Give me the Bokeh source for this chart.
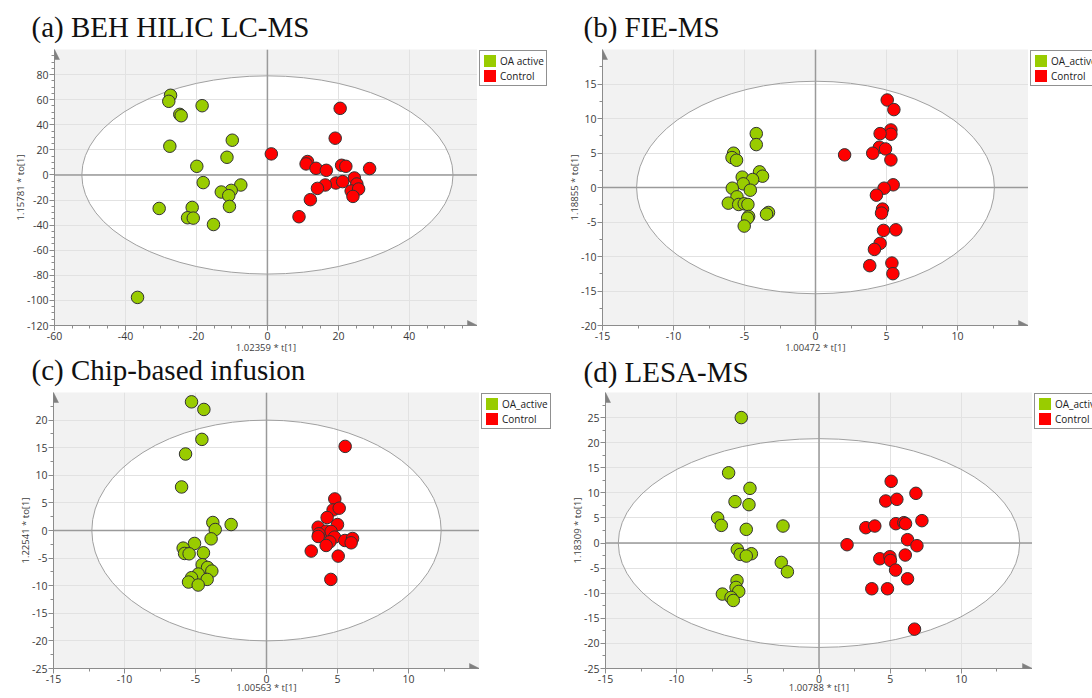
from bokeh.plotting import figure
from bokeh.models import (Legend, LegendItem, Span, Arrow, NormalHead,
                          FixedTicker, Range1d, Title, PrintfTickFormatter)
from bokeh.layouts import column, row
from bokeh.embed import file_html
from bokeh.resources import INLINE

GREEN = "#99cc00"
RED = "#ff0000"
NAN = float("nan")

# ---------------- data ----------------
# (a) BEH HILIC LC-MS
a_oa_x = [-27.3, -27.8, -24.7, -24.3, -18.4, -27.5, -9.9, -11.4, -19.9, -18.1, -7.5,
          -10.2, -13.0, -10.9, -10.7, -21.2, -30.5, -22.5, -20.9, -15.2, -36.6]
a_oa_y = [63.5, 58.7, 48.3, 47.2, 55.2, 22.9, 27.7, 14.1, 6.9, -6.1, -8.0,
          -12.3, -13.6, -16.5, -25.1, -25.9, -26.7, -34.1, -34.4, -39.5, -97.6]
a_ct_x = [1.1, 20.5, 19.1, 11.3, 10.9, 13.7, 16.6, 20.9, 22.1, 28.8, 24.5,
          25.2, 19.3, 21.2, 16.3, 14.1, 23.6, 25.7, 24.1, 12.1, 8.9]
a_ct_y = [16.8, 53.1, 29.3, 10.7, 8.8, 5.3, 3.7, 7.7, 6.9, 5.1, -2.4,
          -7.2, -6.4, -5.3, -8.0, -10.7, -12.8, -11.2, -17.1, -19.7, -33.3]

# (b) FIE-MS
b_oa_x = [-4.17, -4.17, -5.77, -5.88, -5.56, -3.94, -3.73, -5.16, -4.43, -5.09, -5.86,
          -4.59, -5.53, -6.14, -5.41, -5.02, -4.76, -3.31, -3.45, -4.71, -4.78, -5.02]
b_oa_y = [7.81, 6.22, 4.97, 4.34, 3.95, 2.27, 1.64, 1.50, 1.16, 0.53, -0.10,
          -0.39, -1.35, -2.27, -2.46, -2.36, -2.46, -3.62, -3.86, -4.20, -4.44, -5.59]
b_ct_x = [5.05, 5.52, 5.31, 5.31, 4.55, 4.50, 4.93, 4.03, 2.05, 5.31, 5.47,
          4.83, 4.29, 4.72, 4.65, 4.79, 5.66, 4.55, 4.15, 3.82, 5.38, 5.45]
b_ct_y = [12.68, 11.29, 8.34, 7.72, 7.81, 5.84, 5.59, 4.97, 4.73, 4.00, 0.39,
          -0.10, -1.11, -3.13, -3.71, -6.22, -6.13, -8.10, -8.97, -11.33, -10.95, -12.49]

# (c) Chip-based infusion
c_oa_x = [-5.28, -4.41, -4.55, -5.70, -5.98, -3.78, -3.61, -2.49, -3.90, -5.07, -5.87,
          -5.77, -5.45, -4.44, -4.53, -4.15, -3.85, -4.81, -5.28, -5.49, -4.18, -4.81]
c_oa_y = [23.31, 21.93, 16.51, 13.86, 7.89, 1.45, 0.18, 1.08, -1.51, -2.35, -3.19,
          -4.16, -4.22, -4.04, -6.20, -6.69, -7.35, -7.89, -8.55, -9.34, -8.86, -9.88]
c_ct_x = [5.54, 4.81, 4.69, 5.12, 4.27, 5.00, 3.64, 4.20, 4.55, 3.69, 3.64,
          4.79, 4.46, 4.20, 5.52, 6.06, 5.96, 3.15, 5.05, 4.53]
c_ct_y = [15.24, 5.72, 3.73, 4.04, 2.35, 1.08, 0.60, -0.12, -0.18, -0.60, -1.08,
          -1.20, -2.05, -2.71, -1.81, -1.45, -2.23, -3.73, -4.64, -8.86]

# (d) LESA-MS
d_oa_x = [-5.46, -6.35, -4.85, -5.90, -4.92, -7.12, -6.86, -5.11, -2.53, -5.74, -5.53,
          -4.75, -5.11, -2.65, -2.22, -5.76, -5.83, -5.64, -6.79, -6.18, -6.02]
d_oa_y = [25.0, 14.0, 10.9, 8.25, 7.65, 4.99, 3.52, 2.73, 3.39, -1.26, -2.26,
          -2.13, -2.59, -3.86, -5.72, -7.51, -8.84, -9.64, -10.17, -10.84, -11.44]
d_ct_x = [5.07, 6.81, 4.69, 5.47, 7.23, 5.40, 5.96, 6.08, 3.29, 3.92, 6.22,
          1.97, 6.88, 4.27, 4.98, 5.02, 6.06, 5.38, 6.22, 3.71, 4.81, 6.71]
d_ct_y = [12.30, 9.91, 8.38, 8.71, 4.46, 3.86, 4.06, 3.86, 3.06, 3.39, 0.67,
          -0.33, -0.53, -3.13, -2.73, -3.46, -2.39, -5.39, -7.12, -9.11, -9.11, -17.16]

titles = ["(a) BEH HILIC LC-MS", "(b) FIE-MS", "(c) Chip-based infusion", "(d) LESA-MS"]
x_labels = ["1.02359 * t[1]", "1.00472 * t[1]", "1.00563 * t[1]", "1.00788 * t[1]"]
y_labels = ["1.15781 * to[1]", "1.18855 * to[1]", "1.22541 * to[1]", "1.18309 * to[1]"]
oa_names = ["OA active", "OA_active", "OA_active", "OA_active"]
ctrl_name = "Control"
x_ranges = [(-60, 59.2), (-15, 15), (-15, 15), (-15, 15)]
y_ranges = [(-120, 100), (-20, 20), (-25, 25), (-25, 30)]
x_major = [list(range(-60, 41, 20)), list(range(-15, 11, 5)),
           list(range(-15, 11, 5)), list(range(-15, 11, 5))]
y_major = [list(range(-120, 81, 20)), list(range(-20, 16, 5)),
           list(range(-25, 21, 5)), list(range(-25, 26, 5))]
x_minor_step = [5, 2.5, 2.5, 2.5]
y_minor_step = [5, 2.5, 2.5, 2.5]
ellipse_semi = [(52.3, 79.0), (12.6, 15.4), (12.3, 20.0), (14.1, 20.8)]

TICK_FONT = "Open Sans"
TITLE_FONT = "Liberation Serif"
TITLE_SIZE = "29px"


def minor_list(lo, hi, step):
    out = []
    v = lo
    while v < hi - 1e-9:
        out.append(round(v, 4))
        v += step
    return out


def make_title(k, off, standoff):
    return Title(text=titles[k], text_font=TITLE_FONT, text_font_size=TITLE_SIZE,
                 text_font_style="normal", text_color="#111111", align="left",
                 offset=off, standoff=standoff)


def panel(i, oa_x, oa_y, ct_x, ct_y, width, height, bl, bt, bb, xlab_standoff):
    x0, x1 = x_ranges[i]
    y0, y1 = y_ranges[i]
    p = figure(width=width, height=height, title=None,
               min_border_left=bl, min_border_right=0,
               min_border_top=bt, min_border_bottom=bb,
               x_range=Range1d(x0, x1), y_range=Range1d(y0, y1),
               output_backend="svg", toolbar_location=None)
    p.background_fill_color = "#f2f2f2"
    p.border_fill_color = "white"
    p.outline_line_color = None

    xt = FixedTicker(ticks=x_major[i], minor_ticks=minor_list(x0, x1, x_minor_step[i]))
    yt = FixedTicker(ticks=y_major[i], minor_ticks=minor_list(y0, y1, y_minor_step[i]))
    p.xaxis.ticker = xt
    p.yaxis.ticker = yt
    p.xgrid.ticker = xt
    p.ygrid.ticker = yt
    p.grid.grid_line_color = "#e2e2e2"
    p.grid.grid_line_width = 1

    for ax in (p.xaxis, p.yaxis):
        ax.formatter = PrintfTickFormatter(format="%d")
        ax.axis_line_color = "#8c8c8c"
        ax.major_tick_line_color = "#8c8c8c"
        ax.minor_tick_line_color = "#8c8c8c"
        ax.major_tick_out = 5
        ax.major_tick_in = 0
        ax.minor_tick_out = 3
        ax.minor_tick_in = 0
        ax.major_label_text_font = TICK_FONT
        ax.major_label_text_font_size = "10.5px"
        ax.major_label_text_color = "#3a3a3a"
        ax.major_label_standoff = 1
        ax.axis_label_text_font = TICK_FONT
        ax.axis_label_text_font_size = "9.5px"
        ax.axis_label_text_font_style = "normal"
        ax.axis_label_text_color = "#404040"
    p.xaxis.axis_label_standoff = xlab_standoff
    p.yaxis.axis_label_standoff = -3
    p.xaxis.axis_label = x_labels[i]
    p.yaxis.axis_label = y_labels[i]

    a, b = ellipse_semi[i]
    p.ellipse(x=[0], y=[0], width=[2 * a], height=[2 * b], fill_color="white",
              line_color=None, level="image")
    p.ellipse(x=[0], y=[0], width=[2 * a], height=[2 * b], fill_color=None,
              line_color="#a0a0a0", line_width=1)

    p.add_layout(Span(location=0, dimension="height", line_color="#9a9a9a",
                      line_width=1.5, level="underlay"))
    p.add_layout(Span(location=0, dimension="width", line_color="#9a9a9a",
                      line_width=1.5, level="underlay"))

    p.scatter(oa_x, oa_y, size=12.5, fill_color=GREEN, line_color="#333333", line_width=1)
    p.scatter(ct_x, ct_y, size=12.5, fill_color=RED, line_color="#333333", line_width=1)

    # axis arrows
    p.add_layout(Arrow(x_start=x0, y_start=y0, x_end=x0, y_end=y1, line_alpha=0,
                       end=NormalHead(size=10, fill_color="#808080",
                                      line_color="#808080", line_width=0.5)))
    p.add_layout(Arrow(x_start=x0, y_start=y0, x_end=x1, y_end=y0, line_alpha=0,
                       end=NormalHead(size=10, fill_color="#808080",
                                      line_color="#808080", line_width=0.5)))
    return p


def legend_fig(i, width, height, bt):
    q = figure(width=width, height=height, title=None,
               min_border_left=1, min_border_right=0,
               min_border_top=bt, min_border_bottom=0,
               x_range=Range1d(0, 1), y_range=Range1d(0, 1),
               x_axis_location=None, y_axis_location=None,
               output_backend="svg", toolbar_location=None)
    q.grid.visible = False
    q.outline_line_color = None
    q.background_fill_color = "white"
    q.border_fill_color = "white"
    rg = q.quad(left=[NAN], right=[NAN], top=[NAN], bottom=[NAN],
                fill_color=GREEN, line_color=None)
    rr = q.quad(left=[NAN], right=[NAN], top=[NAN], bottom=[NAN],
                fill_color=RED, line_color=None)
    leg = Legend(items=[LegendItem(label=oa_names[i], renderers=[rg]),
                        LegendItem(label=ctrl_name, renderers=[rr])],
                 location="top_left", orientation="vertical",
                 glyph_width=15, glyph_height=15, label_height=15, label_width=10,
                 spacing=0, padding=2, margin=1, label_standoff=3,
                 label_text_font=TICK_FONT, label_text_font_size="10px",
                 label_text_color="#202020",
                 border_line_color="#222222", border_line_width=1.5,
                 background_fill_color="white", background_fill_alpha=1)
    q.add_layout(leg, "center")
    return q


# row heights: top row holds the lower panels' headings below its x axis
H1 = 388
H2 = 310
pa = panel(0, a_oa_x, a_oa_y, a_ct_x, a_ct_y, 477, H1, 54, 49, 63, -2)
pa.add_layout(make_title(0, -23, 13), "above")
pa.add_layout(make_title(2, -23, -10), "below")
la = legend_fig(0, 83, H1, 48)
pb = panel(1, b_oa_x, b_oa_y, b_ct_x, b_ct_y, 468, H1, 42, 49, 63, -2)
pb.add_layout(make_title(1, -19, 13), "above")
pb.add_layout(make_title(3, -19, -5), "below")
lb = legend_fig(1, 64, H1, 48)
pc = panel(2, c_oa_x, c_oa_y, c_ct_x, c_ct_y, 479, H2, 53, 4, 30, -5)
lc = legend_fig(2, 81, H2, 3)
pd = panel(3, d_oa_x, d_oa_y, d_ct_x, d_ct_y, 472, H2, 45, 4, 30, -5)
ld = legend_fig(3, 60, H2, 3)

layout = column(row(pa, la, pb, lb, spacing=0), row(pc, lc, pd, ld, spacing=0), spacing=0)

open("out.html", "w").write(file_html(layout, INLINE))
